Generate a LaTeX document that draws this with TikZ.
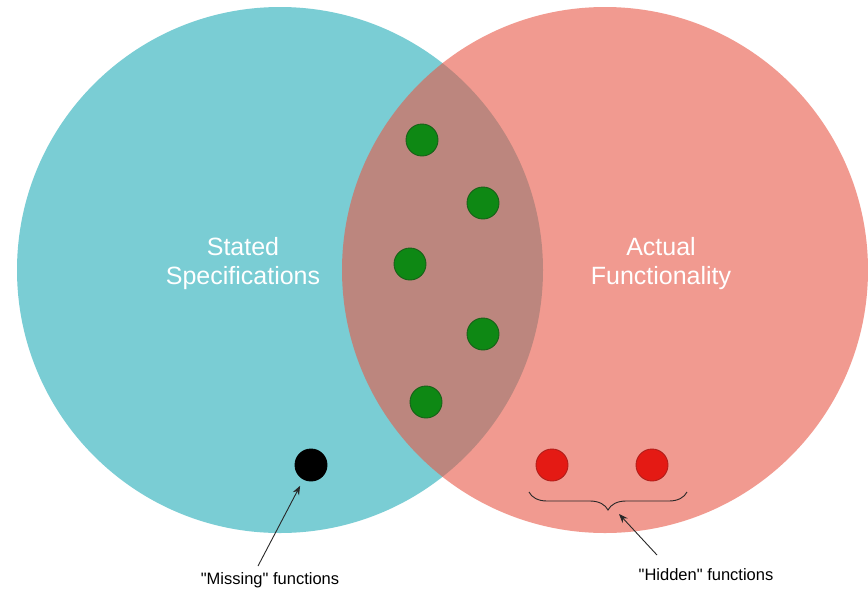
\documentclass[tikz,border=0pt]{standalone}
\usepackage{fontspec}
\setmainfont{Liberation Sans}[Ligatures=TeXOff]
\usetikzlibrary{arrows.meta,decorations.pathreplacing}
\definecolor{specfill}{RGB}{122,205,212}
\definecolor{funcfill}{RGB}{233,88,70}
\definecolor{dotgreen}{RGB}{14,136,20}
\definecolor{dotgreenline}{RGB}{24,96,24}
\definecolor{dotred}{RGB}{228,26,20}
\definecolor{dotredline}{RGB}{178,30,26}
\definecolor{inkgray}{RGB}{40,40,40}
\begin{document}
\begin{tikzpicture}[x=1pt,y=-1pt,
  setcircle/.style={circle,inner sep=0pt,minimum size=526pt},
  biglabel/.style={text=white,font=\fontsize{25}{29}\selectfont,align=center},
  smalllabel/.style={text=black,font=\fontsize{16.5}{19}\selectfont},
  dotnode/.style={circle,inner sep=0pt,minimum size=32pt,line width=0.9pt},
  greendot/.style={dotnode,fill=dotgreen,draw=dotgreenline},
  reddot/.style={dotnode,fill=dotred,draw=dotredline},
  blackdot/.style={dotnode,fill=black,draw=black},
  pointer/.style={draw=inkgray,line width=0.9pt,-{Stealth[length=9pt,width=7pt]}}]
\useasboundingbox (0,0) rectangle (868,590);
\fill[white] (0,0) rectangle (868,590);

% the two sets
\node[setcircle,fill=specfill] (spec) at (280,270) {};
\node[setcircle,fill=funcfill,fill opacity=0.6] (func) at (605,270) {};

\node[biglabel] (speclbl) at (243,264) {Stated\\Specifications};
\node[biglabel] (funclbl) at (661,264) {Actual\\Functionality};

% functions in both sets
\node[greendot] (g1) at (422,140) {};
\node[greendot] (g2) at (483,203) {};
\node[greendot] (g3) at (410,264) {};
\node[greendot] (g4) at (483,334) {};
\node[greendot] (g5) at (426,402) {};

% missing and hidden functions
\node[blackdot] (missing) at (311,465) {};
\node[reddot] (hidden1) at (552,465) {};
\node[reddot] (hidden2) at (652,465) {};

% brace under the hidden functions
\coordinate (braceL) at (529,492);
\coordinate (braceR) at (687,492);
\draw[inkgray,line width=0.9pt,decorate,decoration={brace,amplitude=18pt}]
  (braceR) -- (braceL);

% labels with pointers
\node[smalllabel] (missinglbl) at (270,580) {"Missing" functions};
\node[smalllabel] (hiddenlbl) at (706,575) {"Hidden" functions};
\coordinate (mtail) at (258,566);
\coordinate (htail) at (657,555);
\coordinate (htip) at (619,514);
\draw[pointer,shorten >=7pt] (mtail) -- (missing);
\draw[pointer] (htail) -- (htip);
\end{tikzpicture}
\end{document}
